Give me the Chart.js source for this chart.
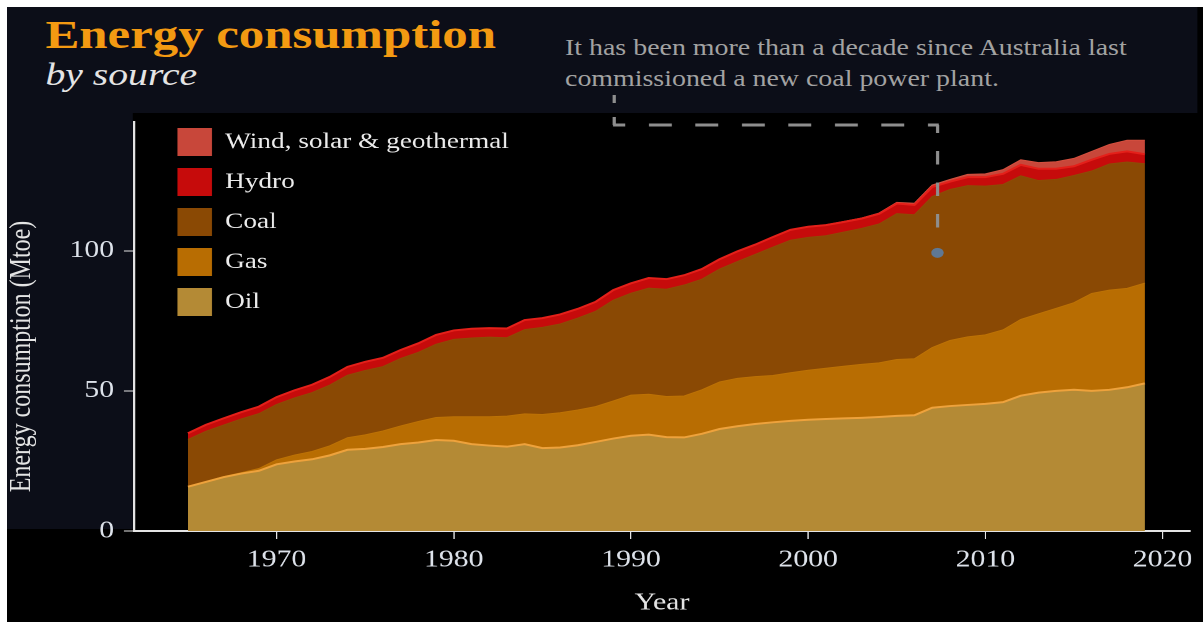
<!DOCTYPE html>
<html>
<head>
<meta charset="utf-8">
<title>Energy consumption by source</title>
<script src="https://cdn.jsdelivr.net/npm/chart.js@4.4.0/dist/chart.umd.min.js"></script>
<style>
  html, body { margin: 0; padding: 0; background: #fff; overflow: hidden; }
  #page { position: absolute; left: 7px; top: 7px; width: 1196px; height: 615px; background: #000; overflow: hidden; }
  /* the whole piece is set in a wide serif, so the stage is stretched sideways */
  #stage { position: absolute; left: 0; top: 0; width: 965px; height: 615px;
           transform: scaleX(1.24); transform-origin: 0 0;
           font-family: 'Liberation Serif', 'Times New Roman', serif; }
  #head { position: absolute; left: 0; top: 0; width: 960px; height: 106px; background: #0c0e18; }
  #title { position: absolute; left: 31px; top: 7px; font-size: 41px; line-height: 41px;
           font-weight: bold; color: #f39a12; white-space: nowrap; }
  #sub { position: absolute; left: 31px; top: 51px; font-size: 32px; line-height: 32px;
         font-style: italic; color: #e4e4e4; white-space: nowrap; }
  #note { position: absolute; left: 450px; top: 25px; font-size: 22.5px; line-height: 31px;
          color: #a2a2a2; white-space: nowrap; }
  #chart { position: absolute; left: 0; top: 0; }
</style>
</head>
<body>
<div id="page">
  <div id="stage">
    <div id="head">
      <div id="title">Energy consumption</div>
      <div id="sub">by source</div>
      <div id="note">It has been more than a decade since Australia last<br>commissioned a new coal power plant.</div>
    </div>
    <canvas id="chart" width="965" height="615"></canvas>
  </div>
</div>
<script>
// Australia, primary energy consumption by source (Mtoe)
const years = [1965, 1966, 1967, 1968, 1969, 1970, 1971, 1972, 1973, 1974,
               1975, 1976, 1977, 1978, 1979, 1980, 1981, 1982, 1983, 1984,
               1985, 1986, 1987, 1988, 1989, 1990, 1991, 1992, 1993, 1994,
               1995, 1996, 1997, 1998, 1999, 2000, 2001, 2002, 2003, 2004,
               2005, 2006, 2007, 2008, 2009, 2010, 2011, 2012, 2013, 2014,
               2015, 2016, 2017, 2018, 2019];

const oil = [15.8, 17.5, 19.2, 20.5, 21.5, 23.8, 24.8, 25.6, 27.0, 29.0,
             29.3, 30.0, 31.0, 31.6, 32.5, 32.2, 31.0, 30.5, 30.1, 31.0,
             29.6, 29.8, 30.6, 31.8, 33.0, 34.0, 34.4, 33.5, 33.4, 34.7,
             36.4, 37.4, 38.2, 38.8, 39.3, 39.7, 40.0, 40.2, 40.4, 40.7,
             41.1, 41.3, 44.0, 44.6, 45.0, 45.4, 46.0, 48.3, 49.4, 50.0,
             50.4, 50.0, 50.4, 51.3, 52.7];

const gas = [0.1, 0.1, 0.2, 0.3, 0.8, 1.6, 2.3, 2.8, 3.4, 4.3,
             5.0, 5.7, 6.5, 7.5, 8.0, 8.6, 9.8, 10.3, 10.9, 10.8,
             12.0, 12.4, 12.6, 12.6, 13.4, 14.5, 14.4, 14.5, 14.8, 15.7,
             16.8, 17.1, 16.9, 16.7, 17.2, 17.7, 18.1, 18.6, 19.1, 19.3,
             20.1, 20.2, 21.5, 23.4, 24.3, 24.6, 25.8, 27.2, 28.1, 29.5,
             31.1, 34.8, 35.6, 35.3, 35.8];

const coal = [16.8, 18.0, 18.4, 19.2, 19.6, 19.8, 20.4, 21.0, 21.7, 22.3,
              23.0, 23.0, 24.1, 24.7, 26.2, 27.6, 28.1, 28.4, 28.0, 30.1,
              31.1, 31.7, 32.8, 34.0, 36.0, 36.4, 37.9, 38.3, 39.6, 39.5,
              40.3, 41.7, 43.6, 45.8, 47.3, 47.4, 47.3, 47.9, 48.5, 49.6,
              52.1, 51.4, 53.9, 53.9, 54.0, 53.1, 51.9, 51.3, 47.6, 46.0,
              45.4, 43.7, 45.0, 45.1, 42.6];

const hydro = [2.2, 2.3, 2.4, 2.4, 2.5, 2.6, 2.7, 2.8, 2.9, 3.0,
               3.1, 3.1, 3.0, 3.2, 3.3, 3.2, 3.3, 3.2, 3.3, 3.4,
               3.3, 3.4, 3.3, 3.4, 3.6, 3.5, 3.6, 3.6, 3.5, 3.6,
               3.5, 3.6, 3.5, 3.6, 3.7, 3.8, 3.8, 3.6, 3.5, 3.6,
               3.6, 3.5, 3.4, 2.8, 3.0, 3.2, 3.8, 3.9, 4.2, 3.8,
               3.3, 4.0, 3.6, 3.8, 3.4];

const renewables = [0, 0, 0, 0, 0, 0, 0, 0, 0, 0,
                    0, 0, 0, 0, 0, 0, 0, 0, 0, 0,
                    0, 0, 0, 0, 0, 0, 0, 0, 0, 0,
                    0, 0, 0, 0, 0, 0.1, 0.1, 0.2, 0.2, 0.3,
                    0.4, 0.6, 0.7, 0.8, 1.0, 1.2, 1.5, 1.8, 2.2, 2.5,
                    2.8, 3.0, 3.4, 4.0, 5.0];

const yTicks = [0, 50, 100];
const xTicks = [1970, 1980, 1990, 2000, 2010, 2020];

// where the callout about the last coal plant points
const noteFromYear = 1989.05;
const noteYear = 2007.3;
const noteValue = 99.3;

const serif = "'Liberation Serif', 'Times New Roman', serif";
const axisInk = '#e4e4e4';
const labelInk = '#dde2ea';

Chart.defaults.font.family = serif;

function series(values) {
  return values.map((v, i) => ({ x: years[i], y: v }));
}

// navy strip behind the y axis title and tick labels, below the header
const sidePanel = {
  id: 'sidePanel',
  beforeDraw(chart) {
    const { ctx, chartArea } = chart;
    const top = chartArea.top - 9;
    ctx.save();
    ctx.fillStyle = '#0c0e18';
    ctx.fillRect(0, top, chartArea.left - 1, chartArea.bottom - 2 - top);
    ctx.restore();
  }
};

// legend inside the plot, top layer first
const sideLegend = {
  id: 'sideLegend',
  afterDatasetsDraw(chart) {
    const { ctx, chartArea } = chart;
    const sets = chart.data.datasets.slice().reverse();
    ctx.save();
    ctx.font = '22px ' + serif;
    ctx.textBaseline = 'middle';
    sets.forEach((ds, i) => {
      const cy = chartArea.top + 20 + i * 40;
      ctx.fillStyle = ds.backgroundColor;
      ctx.fillRect(chartArea.left + 35, cy - 14, 28, 28);
      ctx.fillStyle = '#ececec';
      ctx.fillText(ds.label, chartArea.left + 73.5, cy);
    });
    ctx.restore();
  }
};

// dashed leader from the note down to the 2007 point
const coalNote = {
  id: 'coalNote',
  afterDatasetsDraw(chart) {
    const { ctx, chartArea, scales } = chart;
    const xa = scales.x.getPixelForValue(noteFromYear);
    const xb = scales.x.getPixelForValue(noteYear);
    const yTop = chartArea.top - 27;
    const yBar = chartArea.top + 3;
    const yDot = scales.y.getPixelForValue(noteValue);
    ctx.save();
    ctx.strokeStyle = '#8e8e8e';
    ctx.lineWidth = 2.6;
    ctx.setLineDash([8, 14]);
    ctx.beginPath(); ctx.moveTo(xa, yTop); ctx.lineTo(xa, yBar); ctx.stroke();
    ctx.lineWidth = 3;
    ctx.setLineDash([18.5, 19]);
    ctx.lineDashOffset = 8.5;
    ctx.beginPath(); ctx.moveTo(xa - 1, yBar); ctx.lineTo(xb + 1, yBar); ctx.stroke();
    ctx.lineWidth = 2.6;
    ctx.setLineDash([13.5, 18]);
    ctx.lineDashOffset = 5.5;
    ctx.beginPath(); ctx.moveTo(xb, yBar); ctx.lineTo(xb, yDot - 8); ctx.stroke();
    ctx.setLineDash([]);
    ctx.fillStyle = '#5f7894';
    ctx.beginPath(); ctx.arc(xb, yDot, 5, 0, Math.PI * 2); ctx.fill();
    ctx.restore();
  }
};

const area = { pointRadius: 0, pointHoverRadius: 0, tension: 0 };

new Chart(document.getElementById('chart'), {
  type: 'line',
  data: {
    datasets: [
      { ...area, label: 'Oil', data: series(oil), fill: 'origin',
        backgroundColor: '#b48a35', borderColor: '#eea23c', borderWidth: 2 },
      { ...area, label: 'Gas', data: series(gas), fill: '-1',
        backgroundColor: '#b86d02', borderColor: '#bd7206', borderWidth: 1 },
      { ...area, label: 'Coal', data: series(coal), fill: '-1',
        backgroundColor: '#8a4904', borderColor: '#8e4c06', borderWidth: 1 },
      { ...area, label: 'Hydro', data: series(hydro), fill: '-1',
        backgroundColor: '#c60b0b', borderColor: '#e4201a', borderWidth: 2 },
      { ...area, label: 'Wind, solar & geothermal', data: series(renewables), fill: '-1',
        backgroundColor: '#c8473a', borderColor: '#d4503f', borderWidth: 1 }
    ]
  },
  options: {
    responsive: false,
    animation: false,
    devicePixelRatio: 2,
    layout: { padding: { left: 0, right: 11, top: 115, bottom: 0 } },
    plugins: {
      legend: { display: false },
      tooltip: { enabled: false }
    },
    scales: {
      x: {
        type: 'linear',
        min: 1961.95,
        max: 2021.55,
        afterBuildTicks: (scale) => { scale.ticks = xTicks.map(v => ({ value: v })); },
        ticks: { color: labelInk, font: { size: 24 }, padding: 6.6, maxRotation: 0,
                 autoSkip: false, callback: (v) => String(v) },
        grid: { drawOnChartArea: false, tickLength: 8, color: axisInk },
        border: { color: axisInk, width: 2 },
        title: { display: true, text: 'Year', color: axisInk,
                 font: { size: 24, lineHeight: 1 }, padding: { top: 10, bottom: 7 } }
      },
      y: {
        stacked: true,
        min: 0,
        max: 146,
        afterBuildTicks: (scale) => { scale.ticks = yTicks.map(v => ({ value: v })); },
        ticks: { color: labelInk, font: { size: 24 }, padding: 8 },
        grid: { drawOnChartArea: false, tickLength: 8, color: axisInk },
        border: { color: axisInk, width: 2 },
        // trailing spaces sit above the rotated text and push it down the axis
        title: { display: true, text: 'Energy consumption (Mtoe)\u00a0\u00a0\u00a0\u00a0\u00a0\u00a0\u00a0\u00a0\u00a0\u00a0',
                 color: axisInk, font: { size: 24, lineHeight: 1 }, padding: { top: 0, bottom: 18.4 } }
      }
    }
  },
  plugins: [sidePanel, sideLegend, coalNote]
});
</script>
</body>
</html>
